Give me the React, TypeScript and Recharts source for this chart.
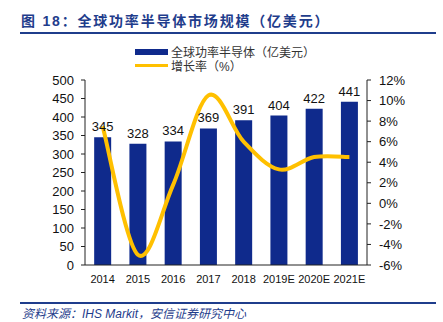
import React from "react";
import {
  ComposedChart,
  Bar,
  Line,
  XAxis,
  YAxis,
  LabelList,
} from "recharts";

const years = ["2014", "2015", "2016", "2017", "2018", "2019E", "2020E", "2021E"];
const marketSize = [345, 328, 334, 369, 391, 404, 422, 441];
const growthRate = [7.5, -5.0, 1.8, 10.5, 6.0, 3.3, 4.5, 4.5];
const leftTicks = [0, 50, 100, 150, 200, 250, 300, 350, 400, 450, 500];
const rightTicks = [-6, -4, -2, 0, 2, 4, 6, 8, 10, 12];

const BAR_COLOR = "#0f2a8c";
const LINE_COLOR = "#ffc000";
const TITLE_BLUE = "#1f3d8c";
const LATIN = '"Liberation Sans", Arial, sans-serif';
const CJK = '"Liberation Sans", "Noto Sans CJK SC", sans-serif';

const data = years.map((year, i) => ({
  year,
  size: marketSize[i],
  growth: growthRate[i],
}));

// excel-like smoothed line (cardinal spline, control points at 1/6)
const smoothCurve: any = (context: any) => {
  let pts: number[][] = [];
  return {
    areaStart() {},
    areaEnd() {},
    lineStart() {
      pts = [];
    },
    point(x: number, y: number) {
      pts.push([+x, +y]);
    },
    lineEnd() {
      if (!pts.length) return;
      context.moveTo(pts[0][0], pts[0][1]);
      for (let i = 0; i < pts.length - 1; i++) {
        const p0 = pts[i - 1] || pts[i];
        const p1 = pts[i];
        const p2 = pts[i + 1];
        const p3 = pts[i + 2] || pts[i + 1];
        context.bezierCurveTo(
          p1[0] + (p2[0] - p0[0]) / 6,
          p1[1] + (p2[1] - p0[1]) / 6,
          p2[0] - (p3[0] - p1[0]) / 6,
          p2[1] - (p3[1] - p1[1]) / 6,
          p2[0],
          p2[1]
        );
      }
    },
  };
};

export default function App() {
  return (
    <div
      style={{
        position: "absolute",
        left: 0,
        top: 0,
        width: 443,
        height: 322,
        background: "#fff",
        overflow: "hidden",
      }}
    >
      {/* title */}
      <div
        style={{
          position: "absolute",
          left: 21,
          top: 10,
          fontFamily: CJK,
          fontWeight: 700,
          fontSize: 14,
          letterSpacing: 1.8,
          color: TITLE_BLUE,
          whiteSpace: "nowrap",
        }}
      >
        图 18：全球功率半导体市场规模（亿美元）
      </div>
      <div
        style={{
          position: "absolute",
          left: 20,
          top: 32,
          width: 416,
          height: 2,
          background: TITLE_BLUE,
        }}
      />

      {/* legend */}
      <div style={{ position: "absolute", left: 135, top: 49, width: 33, height: 6, background: BAR_COLOR }} />
      <div
        style={{
          position: "absolute",
          left: 171,
          top: 43,
          fontFamily: CJK,
          fontSize: 12,
          color: "#333",
          whiteSpace: "nowrap",
        }}
      >
        全球功率半导体（亿美元）
      </div>
      <div style={{ position: "absolute", left: 135, top: 64, width: 33, height: 3, background: LINE_COLOR }} />
      <div
        style={{
          position: "absolute",
          left: 171,
          top: 57,
          fontFamily: CJK,
          fontSize: 12,
          color: "#333",
          whiteSpace: "nowrap",
        }}
      >
        增长率（%）
      </div>

      <div style={{ position: "absolute", left: 0, top: 0 }}>
        <ComposedChart
          width={443}
          height={322}
          data={data}
          margin={{ top: 80, right: 26, bottom: 32, left: 40 }}
          barCategoryGap="26%"
        >
          <XAxis
            dataKey="year"
            tickLine={false}
            tickSize={0}
            tickMargin={10}
            axisLine={{ stroke: "#222" }}
            tick={{ fontSize: 11, fill: "#111", fontFamily: LATIN }}
            interval={0}
            height={25}
          />
          <YAxis
            yAxisId="left"
            domain={[0, 500]}
            ticks={leftTicks}
            width={45}
            tickSize={4}
            tickMargin={7}
            axisLine={{ stroke: "#222" }}
            tickLine={{ stroke: "#222" }}
            tick={{ fontSize: 13, fill: "#111", fontFamily: LATIN }}
            interval={0}
          />
          <YAxis
            yAxisId="right"
            orientation="right"
            domain={[-6, 12]}
            ticks={rightTicks}
            width={50}
            tickSize={4}
            tickMargin={8}
            axisLine={{ stroke: "#222" }}
            tickLine={{ stroke: "#222" }}
            tickFormatter={(v: number) => `${v}%`}
            tick={{ fontSize: 13, fill: "#111", fontFamily: LATIN }}
            interval={0}
          />
          <Bar yAxisId="left" dataKey="size" fill={BAR_COLOR} isAnimationActive={false}>
            <LabelList
              dataKey="size"
              position="top"
              offset={6}
              style={{ fontSize: 13, fill: "#111", fontFamily: LATIN }}
            />
          </Bar>
          <Line
            yAxisId="right"
            dataKey="growth"
            type={smoothCurve}
            stroke={LINE_COLOR}
            strokeWidth={4}
            dot={false}
            isAnimationActive={false}
          />
        </ComposedChart>
      </div>

      {/* footer */}
      <div
        style={{
          position: "absolute",
          left: 20,
          top: 302,
          width: 416,
          height: 1.5,
          background: TITLE_BLUE,
        }}
      />
      <div
        style={{
          position: "absolute",
          left: 22,
          top: 304,
          fontFamily: CJK,
          fontStyle: "italic",
          fontSize: 12,
          color: TITLE_BLUE,
          whiteSpace: "nowrap",
        }}
      >
        资料来源：IHS Markit，安信证券研究中心
      </div>
    </div>
  );
}
